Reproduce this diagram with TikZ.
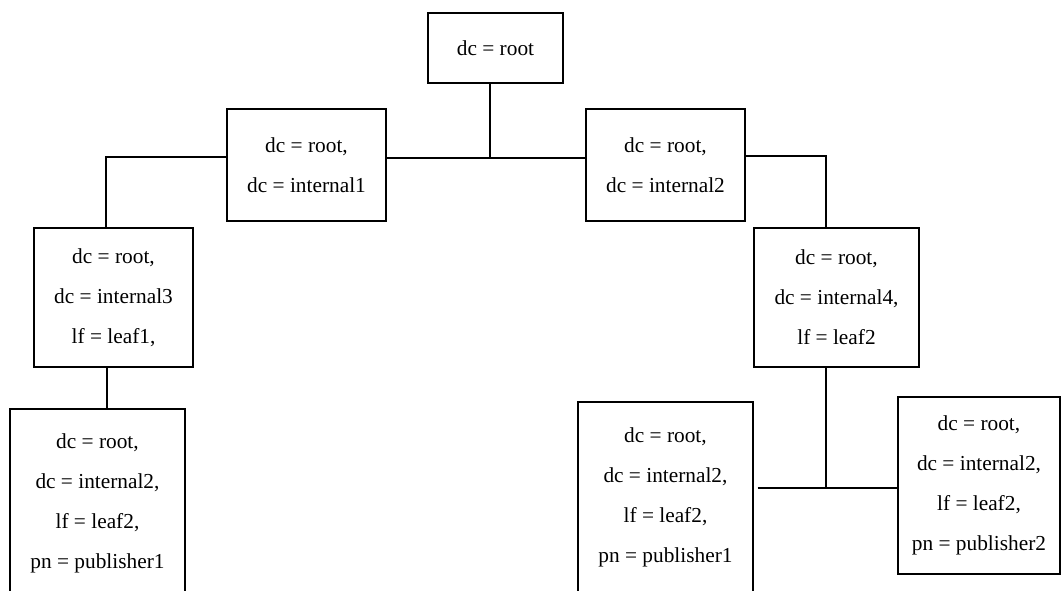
\documentclass[tikz,border=0pt]{standalone}
\usepackage{fontspec}
\setmainfont{Liberation Serif}
\begin{document}
\begin{tikzpicture}[x=0.75pt,y=-0.75pt,
  entry/.style={draw, line width=1.1pt, inner sep=0pt, align=center,
                font=\fontsize{16}{30}\selectfont},
  link/.style={line width=1.1pt}]
\useasboundingbox (0,0) rectangle (1061,590);
\clip (0,0) rectangle (1061,590);

% directory entries
\node[entry, minimum width=101.25pt, minimum height=52.5pt]  (root) at (495.5,48)   {dc = root};
\node[entry, minimum width=119.25pt, minimum height=84pt]    (int1) at (306.5,165)  {dc = root,\\dc = internal1};
\node[entry, minimum width=119.25pt, minimum height=84pt]    (int2) at (665.5,165)  {dc = root,\\dc = internal2};
\node[entry, minimum width=119.25pt, minimum height=104.25pt] (int3) at (113.5,297.5) {dc = root,\\dc = internal3\\lf = leaf1,};
\node[entry, minimum width=123.75pt, minimum height=104.25pt] (int4) at (836.5,297.5) {dc = root,\\dc = internal4,\\lf = leaf2};
\node[entry, minimum width=131.25pt, minimum height=141pt]    (pubL) at (97.5,503)   {dc = root,\\dc = internal2,\\lf = leaf2,\\pn = publisher1};
\node[entry, minimum width=131.25pt, minimum height=143.25pt] (pubM) at (665.5,497.5) {dc = root,\\dc = internal2,\\lf = leaf2,\\pn = publisher1};
\node[entry, minimum width=121.5pt, minimum height=132.75pt]  (pubR) at (979,485.5)  {dc = root,\\dc = internal2,\\lf = leaf2,\\pn = publisher2};

% junction points of the tree
\coordinate (j1) at (490,158);
\coordinate (c3) at (106,157);
\coordinate (c4) at (826,156);
\coordinate (c5) at (107,367);
\coordinate (j2) at (826,488);

% connectors
\draw[link] (root.south -| j1) -- (j1);
\draw[link] (int1.east |- j1) -- (int2.west |- j1);
\draw[link] (int1.west |- c3) -- (c3) -- (c3 |- int3.north);
\draw[link] (int2.east |- c4) -- (c4) -- (c4 |- int4.north);
\draw[link] (int3.south -| c5) -- (pubL.north -| c5);
\draw[link] (int4.south -| j2) -- (j2);
\draw[link] ([xshift=3pt]pubM.east |- j2) -- (pubR.west |- j2);
\end{tikzpicture}
\end{document}
